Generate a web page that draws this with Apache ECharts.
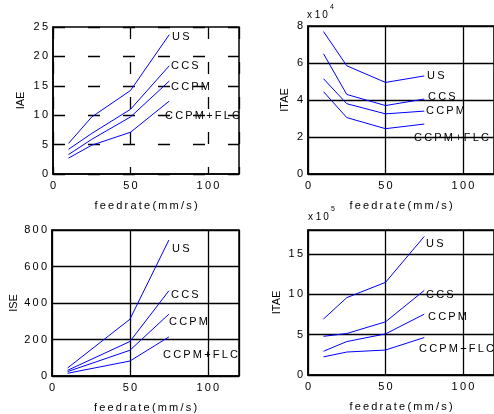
<!DOCTYPE html>
<html>
<head>
<meta charset="utf-8">
<script src="https://cdn.jsdelivr.net/npm/echarts@6/dist/echarts.min.js"></script>
<style>
html, body { margin: 0; padding: 0; background: #fff; }
#panel { width: 494px; height: 414px; }
</style>
</head>
<body>
<div id="panel"></div>
<script>
var feedrate = [10, 25, 50, 75];
var feedrateIse = [10, 50, 75];
var methods = ['US', 'CCS', 'CCPM', 'CCPM+FLC'];

// IAE
var iaeData = [
    [5.2, 9.7, 14.2, 23.7],
    [4.2, 6.9, 11.0, 18.4],
    [3.3, 5.9, 9.7, 15.8],
    [2.7, 4.9, 7.1, 12.4]
];
// ITAE, x 10^4
var itaeData4 = [
    [7.7, 5.85, 4.95, 5.3],
    [6.5, 4.3, 3.7, 4.05],
    [5.15, 3.8, 3.25, 3.4],
    [4.45, 3.05, 2.45, 2.7]
];
// ISE
var iseData = [
    [44, 311, 745],
    [31, 189, 467],
    [24, 141, 339],
    [15, 82, 214]
];
// ITAE, x 10^5
var itaeData5 = [
    [6.95, 9.6, 11.5, 17.2],
    [4.8, 5.15, 6.6, 10.5],
    [2.95, 4.15, 5.1, 7.55],
    [2.25, 2.85, 3.1, 4.65]
];

var FONT = 'Liberation Sans, Arial, sans-serif';
var SP = '\u2009';

function spaced(s)
{
    return String(s).split('').join(SP);
}

function zip(xs, ys)
{
    return xs.map(function (x, i) { return [x, ys[i]]; });
}

var panels = [
    { left: 53, top: 27, width: 186, height: 147, yMax: 25, yInt: 5, yName: 'IAE', yGap: 27, dashed: true, xs: feedrate, data: iaeData },
    { left: 308, top: 26, width: 187, height: 148, yMax: 8, yInt: 2, yName: 'ITAE', yGap: 18, dashed: false, xs: feedrate, data: itaeData4 },
    { left: 52, top: 230, width: 187, height: 146, yMax: 800, yInt: 200, yName: 'ISE', yGap: 33, dashed: false, xs: feedrateIse, data: iseData },
    { left: 308, top: 230, width: 187, height: 145, yMax: 18, yInt: 5, yName: 'ITAE', yGap: 26, dashed: false, xs: feedrate, data: itaeData5 }
];

// curve labels, pixel anchors (left, middle)
var labelPos = [
    [[172, 37], [171, 66], [171, 87], [165, 116]],
    [[427, 76], [428, 97], [426, 111], [414, 138]],
    [[172, 249], [171, 295], [169, 322], [163, 355]],
    [[426, 244], [426, 295], [428, 317], [419, 349]]
];

var grids = [], xAxes = [], yAxes = [], series = [], graphic = [];

panels.forEach(function (p, i)
{
    var splitType = p.dashed ? [12, 23] : 'solid';
    grids.push({
        left: p.left, top: p.top, width: p.width, height: p.height,
        show: true, borderColor: '#000', borderWidth: 1.5, backgroundColor: '#fff'
    });
    xAxes.push({
        gridIndex: i, type: 'value', min: 0, max: 120, interval: 50,
        name: spaced('feedrate(mm/s)'), nameLocation: 'middle', nameGap: 26,
        nameTextStyle: { color: '#000', fontSize: 11, fontFamily: FONT },
        axisLine: { show: true, lineStyle: { color: '#000', width: 1.5 } },
        axisTick: { show: true, inside: true, length: 4, lineStyle: { color: '#000' } },
        axisLabel: { color: '#000', fontSize: 11, fontFamily: FONT, margin: 6, showMaxLabel: false, formatter: spaced },
        splitLine: { show: true, lineStyle: { color: '#000', width: 1.3, type: splitType } }
    });
    yAxes.push({
        gridIndex: i, type: 'value', min: 0, max: p.yMax, interval: p.yInt,
        name: p.yName, nameLocation: 'middle', nameGap: p.yGap,
        nameTextStyle: { color: '#000', fontSize: 11, fontFamily: FONT },
        axisLine: { show: true, lineStyle: { color: '#000', width: 1.5 } },
        axisTick: { show: true, inside: true, length: 4, lineStyle: { color: '#000' } },
        axisLabel: { color: '#000', fontSize: 11, fontFamily: FONT, margin: 5, showMaxLabel: p.yMax % p.yInt === 0, formatter: spaced },
        splitLine: { show: true, lineStyle: { color: '#000', width: 1.3, type: splitType } }
    });
    p.data.forEach(function (ys, k)
    {
        series.push({
            type: 'line', name: methods[k], xAxisIndex: i, yAxisIndex: i,
            data: zip(p.xs, ys), symbol: 'none', silent: true,
            lineStyle: { color: '#0000ff', width: 1 }, z: 5
        });
        graphic.push({
            type: 'text', left: labelPos[i][k][0], top: labelPos[i][k][1] - 6, z: 10,
            style: { text: spaced(methods[k]), fill: '#000', fontSize: 11, fontFamily: FONT }
        });
    });
});

// exponent labels
function exponent(x, y, pow)
{
    graphic.push({
        type: 'text', left: x, top: y - 6, z: 10,
        style: { text: 'x ' + spaced('10'), fill: '#000', fontSize: 10, fontFamily: FONT }
    });
    graphic.push({
        type: 'text', left: x + 23, top: y - 12, z: 10,
        style: { text: String(pow), fill: '#000', fontSize: 7, fontFamily: FONT }
    });
}
exponent(307, 16, 4);
exponent(308, 218, 5);

var myChart = echarts.init(document.getElementById('panel'));
myChart.setOption({
    backgroundColor: '#fff',
    animation: false,
    grid: grids,
    xAxis: xAxes,
    yAxis: yAxes,
    series: series,
    graphic: graphic
});
</script>
</body>
</html>
